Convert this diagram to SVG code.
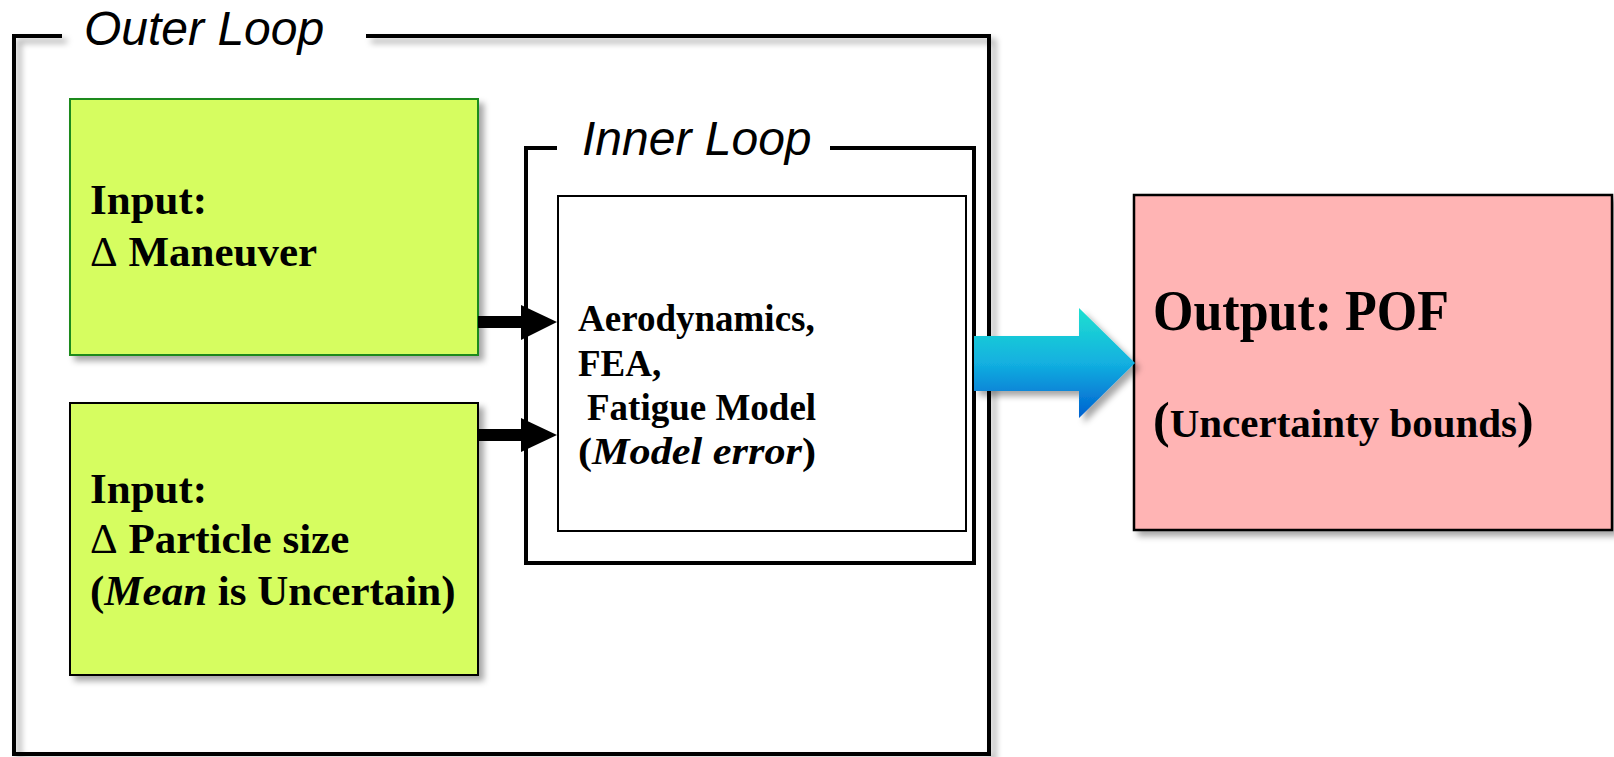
<svg xmlns="http://www.w3.org/2000/svg" width="1614" height="757" viewBox="0 0 1614 757">
<defs>
<style>
.frame{fill:none;stroke:#000;stroke-width:4;stroke-linejoin:miter}
.lbl{font-family:"Liberation Sans",Arial,sans-serif;font-style:italic;font-size:48px;fill:#000}
.t{font-family:"Liberation Serif","Times New Roman",serif;font-weight:bold;fill:#000}
.in{fill:#d6fd60}
.d{font-weight:normal}
</style>
<filter id="sh" x="-10%" y="-10%" width="130%" height="130%">
<feDropShadow dx="5" dy="5" stdDeviation="3" flood-color="#000" flood-opacity="0.35"/>
</filter>
<linearGradient id="cy" x1="0" y1="0" x2="0" y2="1">
<stop offset="0" stop-color="#1fe0d0"/>
<stop offset="0.5" stop-color="#12b0e0"/>
<stop offset="1" stop-color="#0060d0"/>
</linearGradient>
</defs>
<rect width="1614" height="757" fill="#fff"/>

<g id="outer-loop">
<path class="frame" d="M62,36 H14 V754 H989 V36 H366" filter="url(#sh)"/>
<text class="lbl" x="84" y="45">Outer Loop</text>
</g>

<g id="inner-loop">
<path class="frame" d="M557,148 H526 V563 H974 V148 H830"/>
<text class="lbl" x="582" y="155">Inner Loop</text>
</g>

<g id="input-maneuver">
<rect class="in" x="70" y="99" width="408" height="256" stroke="#1a8a1a" stroke-width="2" filter="url(#sh)"/>
<text class="t" font-size="43" x="90" y="214">Input:</text>
<text class="t" font-size="43" x="90" y="266"><tspan class="d">Δ</tspan> Maneuver</text>
</g>

<g id="input-particle">
<rect class="in" x="70" y="403" width="408" height="272" stroke="#000" stroke-width="2" filter="url(#sh)"/>
<text class="t" font-size="43" x="90" y="503">Input:</text>
<text class="t" font-size="43" x="90" y="553"><tspan class="d">Δ</tspan> Particle size</text>
<text class="t" font-size="43" x="90" y="605">(<tspan font-style="italic">Mean</tspan> is Uncertain)</text>
</g>

<g id="model">
<rect x="558" y="196" width="408" height="335" fill="#fff" stroke="#000" stroke-width="2"/>
<text class="t" font-size="37" x="578" y="331">Aerodynamics,</text>
<text class="t" font-size="37" x="578" y="376">FEA,</text>
<text class="t" font-size="37" x="587" y="420">Fatigue Model</text>
<text class="t" font-size="37" x="578" y="464" textLength="238" lengthAdjust="spacingAndGlyphs">(<tspan font-style="italic">Model error</tspan>)</text>
</g>

<g id="output">
<rect x="1134" y="195" width="478" height="335" fill="#ffb4b4" stroke="#000" stroke-width="2.5" filter="url(#sh)"/>
<text class="t" font-size="56" x="1153" y="330" textLength="296" lengthAdjust="spacingAndGlyphs">Output: POF</text>
<text class="t" font-size="41" x="1153" y="437"><tspan font-size="50">(</tspan>Uncertainty bounds<tspan font-size="50">)</tspan></text>
</g>

<g id="connectors">
<rect x="478" y="316" width="46" height="12" fill="#000"/>
<polygon points="521,305 557,322 521,340" fill="#000"/>
<rect x="478" y="429" width="46" height="12" fill="#000"/>
<polygon points="521,418 557,435 521,452" fill="#000"/>
<polygon points="974,336 1079,336 1079,308 1135,363 1079,418 1079,391 974,391" fill="url(#cy)" filter="url(#sh)"/>
</g>
</svg>
